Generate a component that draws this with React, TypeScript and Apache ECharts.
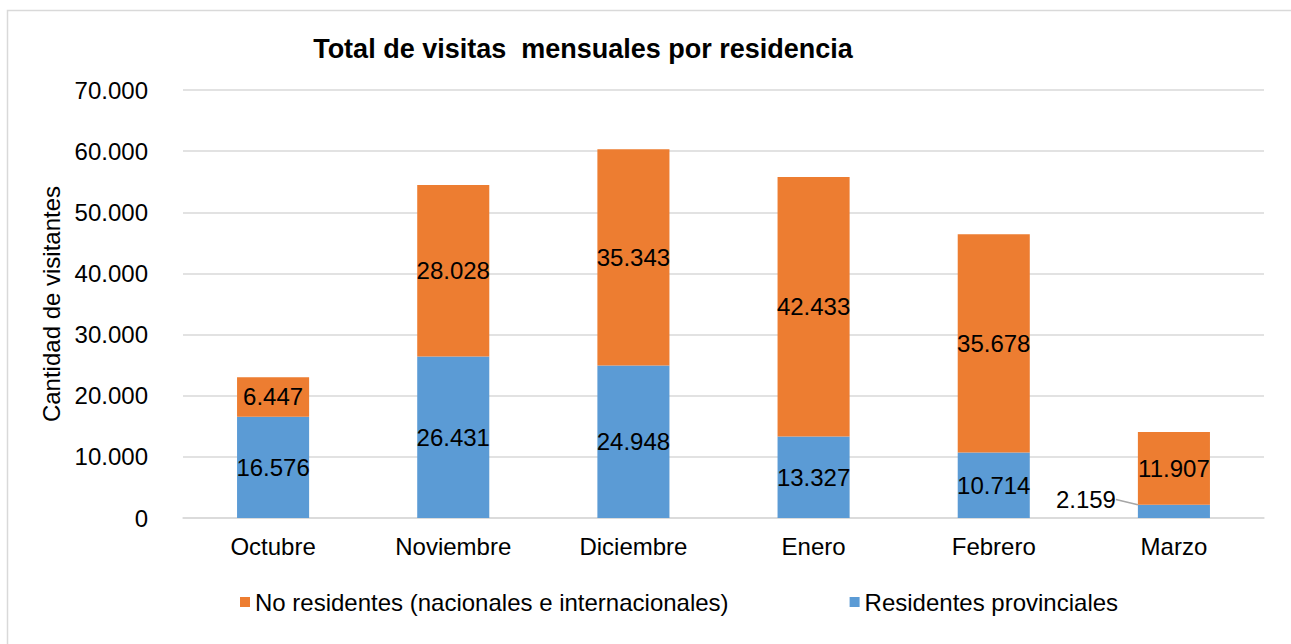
import React, { useEffect, useRef } from "react";
import * as echarts from "echarts";

const categories = ["Octubre", "Noviembre", "Diciembre", "Enero", "Febrero", "Marzo"];
const residentes = [16576, 26431, 24948, 13327, 10714, 2159];
const noResidentes = [6447, 28028, 35343, 42433, 35678, 11907];
const seriesNames = ["No residentes (nacionales e internacionales)", "Residentes provinciales"];
const titleText = "Total de visitas  mensuales por residencia";
const yAxisName = "Cantidad de visitantes";

const fmt = (v: number) => String(Math.round(v)).replace(/\B(?=(\d{3})+(?!\d))/g, ".");

const FONT = "'Liberation Sans', Arial, sans-serif";

export default function App() {
  const ref = useRef<HTMLDivElement>(null);
  useEffect(() => {
    if (!ref.current) return;
    const chart = echarts.init(ref.current, undefined, { renderer: "svg" });
    chart.setOption({
      animation: false,
      backgroundColor: "#ffffff",
      textStyle: { fontFamily: FONT },
      title: {
        text: titleText,
        left: 578,
        top: 30,
        textAlign: "center",
        textStyle: { fontFamily: FONT, fontSize: 27, fontWeight: "bold", color: "#000" },
      },
      graphic: [
        {
          type: "rect",
          shape: { x: 7.5, y: 10.5, width: 1400, height: 700 },
          style: { fill: "none", stroke: "#d9d9d9", lineWidth: 1.5 },
          silent: true,
        },
      ],
      legend: {
        data: seriesNames,
        top: 585,
        left: 235,
        itemWidth: 10,
        itemHeight: 10,
        itemGap: 121,
        icon: "rect",
        textStyle: { fontFamily: FONT, fontSize: 24, color: "#000" },
      },
      grid: { left: 183, right: 27, top: 90, bottom: 126 },
      xAxis: {
        type: "category",
        data: categories,
        axisLine: { show: true, lineStyle: { color: "#d9d9d9", width: 1.5 } },
        axisTick: { show: false },
        axisLabel: { fontFamily: FONT, fontSize: 24, color: "#000", margin: 16 },
      },
      yAxis: {
        type: "value",
        min: 0,
        max: 70000,
        interval: 10000,
        name: yAxisName,
        nameLocation: "middle",
        nameGap: 112,
        nameTextStyle: { fontFamily: FONT, fontSize: 24, color: "#000" },
        axisLine: { show: false },
        axisTick: { show: false },
        splitLine: { lineStyle: { color: "#d9d9d9", width: 1.5 } },
        axisLabel: { fontFamily: FONT, fontSize: 24, color: "#000", margin: 35, formatter: (v: number) => fmt(v) },
      },
      series: [
        {
          name: seriesNames[1],
          type: "bar",
          stack: "total",
          data: residentes,
          barWidth: "40%",
          itemStyle: { color: "#5B9BD5" },
          label: {
            show: true,
            position: "inside",
            fontFamily: FONT,
            fontSize: 24,
            color: "#000",
            formatter: (p: any) => fmt(p.value),
          },
          labelLine: { show: true, lineStyle: { color: "#a6a6a6", width: 1.5 } },
          labelLayout: (p: any) => (p.dataIndex === 5 ? { dx: -88, dy: -12 } : {}),
        },
        {
          name: seriesNames[0],
          type: "bar",
          stack: "total",
          data: noResidentes,
          barWidth: "40%",
          itemStyle: { color: "#ED7D31" },
          label: {
            show: true,
            position: "inside",
            fontFamily: FONT,
            fontSize: 24,
            color: "#000",
            formatter: (p: any) => fmt(p.value),
          },
        },
      ],
    });
    return () => chart.dispose();
  }, []);
  return (
    <div
      ref={ref}
      style={{ position: "fixed", left: 0, top: 0, width: 1291, height: 644 }}
    />
  );
}
